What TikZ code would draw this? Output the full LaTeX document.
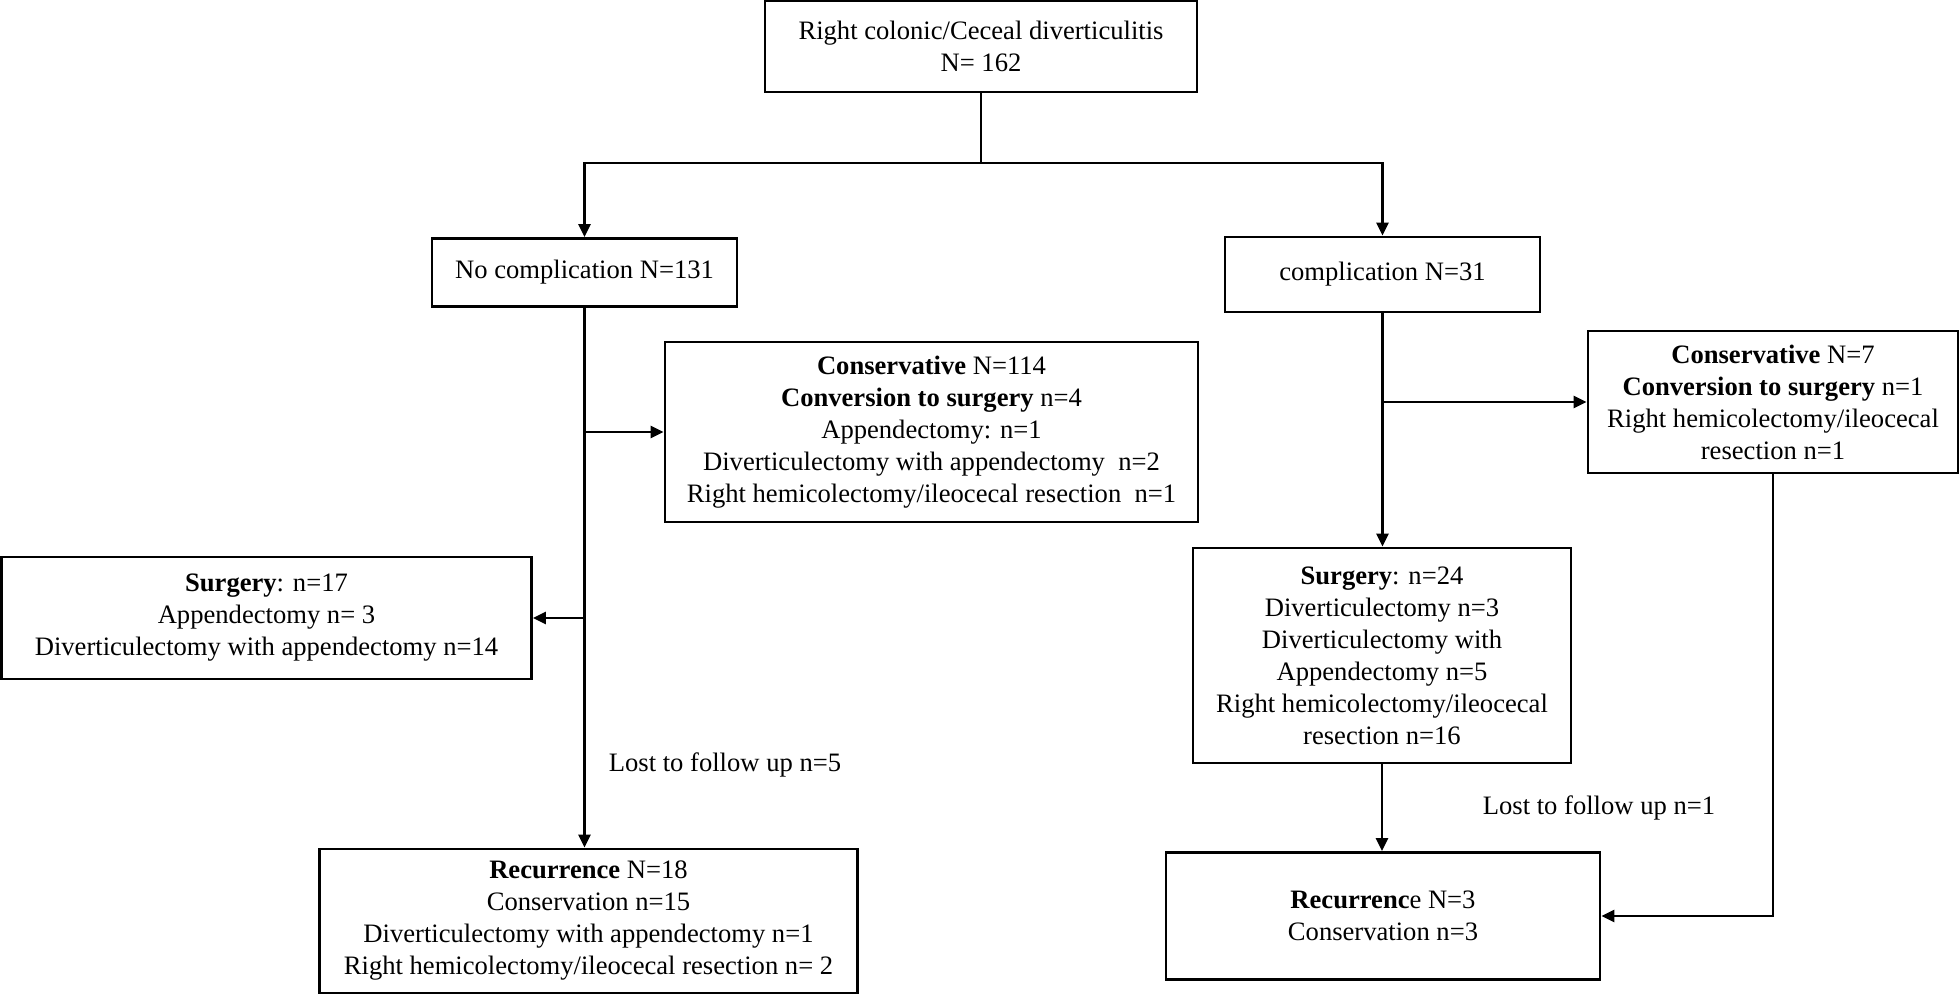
\documentclass[tikz,border=0pt]{standalone}
\usepackage{fontspec}
\setmainfont{Liberation Serif}
\usetikzlibrary{arrows.meta}
\begin{document}
\begin{tikzpicture}[x=0.5pt,y=-0.5pt,
  box/.style={draw, line width=1.4pt, align=center, inner sep=0pt, font=\fontsize{13.3}{16}\selectfont},
  conn/.style={line width=1.25pt},
  arr/.style={conn, -{Triangle[length=6.5pt,width=6pt]}},
  lbl/.style={font=\fontsize{13.3}{16}\selectfont, inner sep=0pt}]
\useasboundingbox (0,0) rectangle (1960,995);
\node[box, minimum width=216pt, minimum height=45.5pt] (top) at (981,46.5)
  {Right colonic/Ceceal diverticulitis\\N= 162};
\node[box, minimum width=152.5pt, minimum height=34pt] (nocomp) at (584.5,272.5)
  {No complication N=131};
\node[box, minimum width=157.5pt, minimum height=37.5pt] (comp) at (1382.5,274.5)
  {complication N=31};
\node[box, minimum width=266.5pt, minimum height=90pt] (cons1) at (931.5,432)
  {\textbf{Conservative} N=114\\\textbf{Conversion to surgery} n=4\\Appendectomy: n=1\\Diverticulectomy with appendectomy~~n=2\\Right hemicolectomy/ileocecal resection~~n=1};
\node[box, minimum width=265pt, minimum height=61pt] (surg1) at (266.5,618)
  {\textbf{Surgery}: n=17\\Appendectomy n= 3\\Diverticulectomy with appendectomy n=14};
\node[box, minimum width=269pt, minimum height=72pt] (rec1) at (588.5,921)
  {\textbf{Recurrence} N=18\\Conservation n=15\\Diverticulectomy with appendectomy n=1\\Right hemicolectomy/ileocecal resection n= 2};
\node[box, minimum width=185pt, minimum height=71pt] (cons2) at (1773,402)
  {\textbf{Conservative} N=7\\\textbf{Conversion to surgery} n=1\\Right hemicolectomy/ileocecal\\resection n=1};
\node[box, minimum width=189pt, minimum height=107.5pt] (surg2) at (1382,655.5)
  {\textbf{Surgery}: n=24\\Diverticulectomy n=3\\Diverticulectomy with\\Appendectomy n=5\\Right hemicolectomy/ileocecal\\resection n=16};
\node[box, minimum width=217pt, minimum height=63.5pt] (rec2) at (1383,916)
  {\textbf{Recurrenc}e N=3\\Conservation n=3};
\node[lbl] (lost1) at (725,765) {Lost to follow up n=5};
\node[lbl] (lost2) at (1599,808) {Lost to follow up n=1};
\coordinate (split) at (981,163);
\draw[conn] (top.south) -- (split);
\draw[arr] (split) -| (nocomp.north);
\draw[arr] (split) -| (comp.north);
\draw[arr] (nocomp.south) -- (nocomp.south |- rec1.north);
\draw[arr] (nocomp.south |- cons1.west) -- (cons1.west);
\draw[arr] (nocomp.south |- surg1.east) -- (surg1.east);
\draw[arr] (comp.south) -- (comp.south |- surg2.north);
\draw[arr] (comp.south |- cons2.west) -- (cons2.west);
\draw[arr] (surg2.south) -- (surg2.south |- rec2.north);
\draw[arr] (cons2.south) |- (rec2.east);
\end{tikzpicture}
\end{document}
